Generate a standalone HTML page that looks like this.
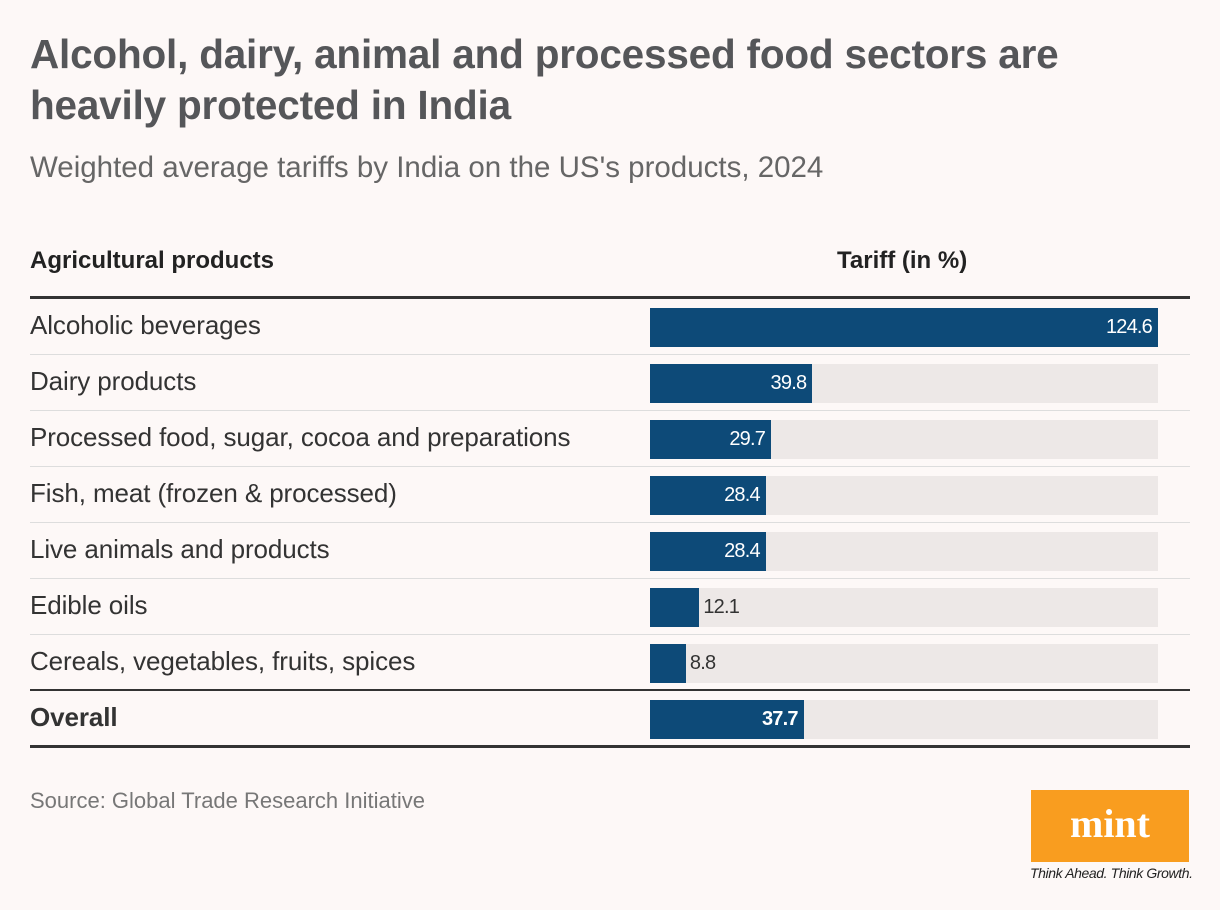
<!DOCTYPE html>
<html><head><meta charset="utf-8"><style>
body{margin:0;width:1220px;height:910px;background:#fdf8f7;font-family:"Liberation Sans",sans-serif;position:relative;overflow:hidden}
.abs{position:absolute}
#title{left:30px;top:29px;font-size:40.5px;font-weight:bold;color:#555659;line-height:51px;letter-spacing:-0.2px}
#sub{left:30px;top:151px;font-size:29.5px;color:#666}
.hd{top:247px;font-size:24px;font-weight:bold;color:#222}
.lbl{left:30px;font-size:26px;color:#333;letter-spacing:-0.1px}
.val{font-size:20px;letter-spacing:-0.8px}
.rule{left:30px;width:1160px;background:#333}
.sep{left:30px;width:1160px;height:1px;background:#ddd}
</style></head><body>
<div class="abs" id="title">Alcohol, dairy, animal and processed food sectors are<br>heavily protected in India</div>
<div class="abs" id="sub">Weighted average tariffs by India on the US's products, 2024</div>
<div class="abs hd" style="left:30px">Agricultural products</div>
<div class="abs hd" style="left:837px">Tariff (in %)</div>
<div class="abs rule" style="top:296px;height:3px"></div>
<div id="rows"></div>
<div class="abs" style="left:30px;top:788px;font-size:22px;color:#777">Source: Global Trade Research Initiative</div>
<div class="abs" style="left:1031px;top:790px;width:158px;height:72px;background:#f99d1f;color:#fff;font-family:'Liberation Serif',serif;font-weight:bold;font-size:40px;text-align:center;line-height:68px">mint</div>
<div class="abs" style="left:1030px;top:865px;font-size:14px;font-style:italic;color:#222;letter-spacing:-0.4px">Think Ahead. Think Growth.</div>
<script>
const categories=["Alcoholic beverages","Dairy products","Processed food, sugar, cocoa and preparations","Fish, meat (frozen & processed)","Live animals and products","Edible oils","Cereals, vegetables, fruits, spices","Overall"];
const values=[124.6,39.8,29.7,28.4,28.4,12.1,8.8,37.7];
const maxV=124.6;
const x0=650,W=508,top0=308,step=56,bh=39;
const xs=v=>v/maxV*W;
const root=document.getElementById('rows');
categories.forEach((c,i)=>{
  const y=top0+i*step;const v=values[i];const last=i===categories.length-1;
  const l=document.createElement('div');l.className='abs lbl';l.style.top=(y+2)+'px';l.textContent=c;
  if(last){l.style.fontWeight='bold';}
  
  
  root.appendChild(l);
  const bg=document.createElement('div');bg.className='abs';bg.style.cssText=`left:${x0}px;top:${y}px;width:${W}px;height:${bh}px;background:#ede8e7`;
  
  
  root.appendChild(bg);
  const w=xs(v);
  const b=document.createElement('div');b.className='abs';b.style.cssText=`left:${x0}px;top:${y}px;width:${w}px;height:${bh}px;background:#0d4a78`;
  
  
  root.appendChild(b);
  const t=document.createElement('div');t.className='abs val';t.textContent=v.toFixed(1);
  if(last)t.style.fontWeight='bold';
  if(w>80){t.style.cssText+=`;color:#fff;top:${y+8}px;right:${1220-x0-w+6}px`;}
  else{t.style.cssText+=`;color:#333;top:${y+8}px;left:${x0+w+4}px`;}
  
  
  root.appendChild(t);
  if(i<categories.length-2){const s=document.createElement('div');s.className='abs sep';s.style.top=(y+46)+'px';
    
    
    root.appendChild(s);}
});
const r1=document.createElement('div');r1.className='abs rule';r1.style.cssText+=';top:689px;height:2px';


root.appendChild(r1);
const r2=document.createElement('div');r2.className='abs rule';r2.style.cssText+=';top:745px;height:3px';


root.appendChild(r2);
</script>
</body></html>
